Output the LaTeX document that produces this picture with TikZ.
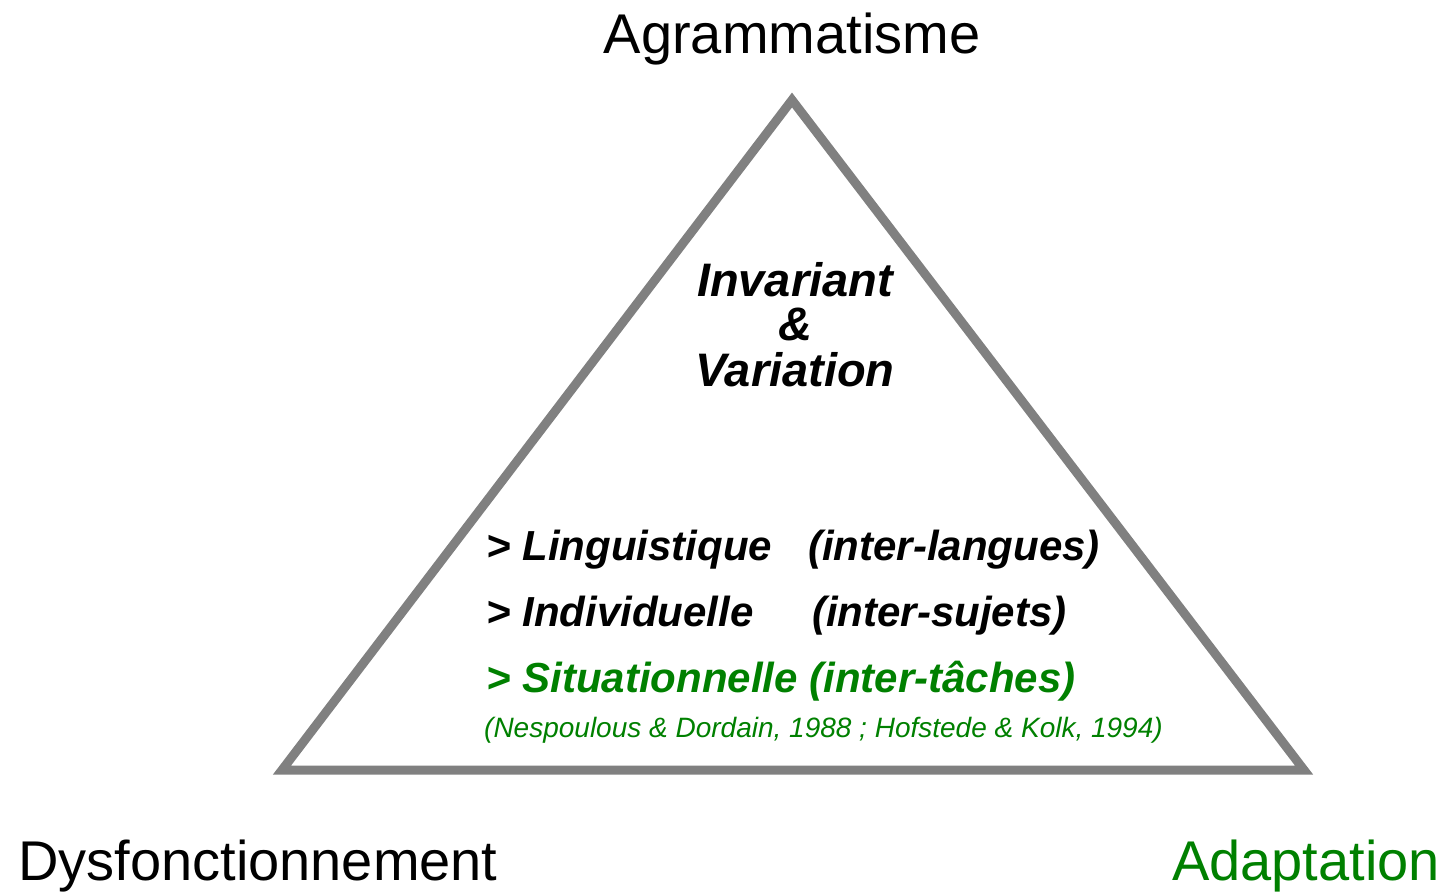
\documentclass[tikz,border=0pt]{standalone}
\usepackage{fontspec}
\setmainfont{Liberation Sans}
\usepackage{tikz}
\definecolor{trigray}{RGB}{128,128,128}
\definecolor{adgreen}{RGB}{0,128,0}

\begin{document}
\begin{tikzpicture}[x=1pt,y=-1pt,
    every node/.style={inner sep=0pt},
    pole/.style={font=\fontsize{56}{60}\selectfont},
    centre/.style={font=\fontsize{47}{50}\bfseries\itshape\selectfont},
    item/.style={font=\fontsize{42}{46}\bfseries\itshape\selectfont, anchor=base west},
    cite/.style={font=\fontsize{28}{30}\itshape\selectfont, anchor=base west, text=adgreen}]
    \useasboundingbox (0,0) rectangle (1445,892);
    % sommets du triangle
    \coordinate (top) at (792,100);
    \coordinate (bl) at (282,770);
    \coordinate (br) at (1304,770);
    \draw[trigray, line width=9pt, miter limit=10] (top) -- (br) -- (bl) -- cycle;

    % les trois poles
    \node[pole, anchor=base] (agram) at (792,53) {Agrammatisme};
    \node[pole, anchor=base west] (dysf) at (18,880) {Dysfonctionnement};
    \node[pole, anchor=base east, text=adgreen] (adapt) at (1440,880) {Adaptation};

    % centre
    \node[centre, anchor=base] (inv) at (795,296) {Invariant};
    \node[centre, anchor=base] (amp) at (795,340) {\&};
    \node[centre, anchor=base] (var) at (795,386) {Variation};

    % niveaux de variation
    \node[item] (ling) at (486,560) {> Linguistique};
    \node[item] (lingx) at (808,560) {(inter-langues)};
    \node[item] (indiv) at (486,626) {> Individuelle};
    \node[item] (indivx) at (812,626) {(inter-sujets)};
    \node[item, text=adgreen] (situ) at (486,692) {> Situationnelle (inter-tâches)};
    \node[cite] (ref) at (484,737) {(Nespoulous \& Dordain, 1988 ; Hofstede \& Kolk, 1994)};
\end{tikzpicture}
\end{document}
